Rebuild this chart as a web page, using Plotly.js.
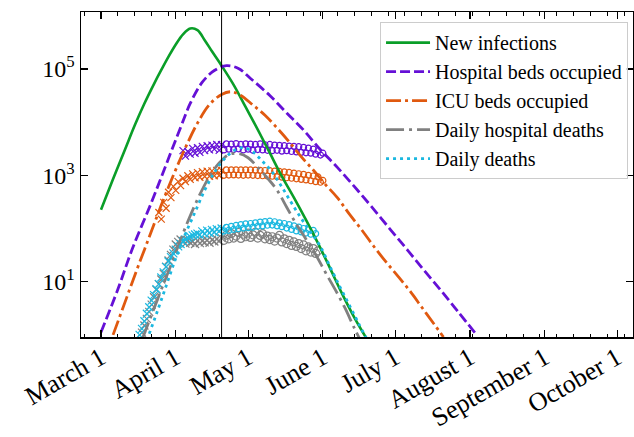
<!DOCTYPE html>
<html><head><meta charset="utf-8">
<script src="https://cdn.plot.ly/plotly-3.0.1.min.js"></script>
<style>html,body{margin:0;padding:0;background:#fff}#chart{width:634px;height:437px}</style>
</head><body><div id="chart"></div>
<script>
// ---- model curves ----
const infDates = ['2020-03-01','2020-03-06','2020-03-11','2020-03-15','2020-03-19','2020-03-23','2020-03-26','2020-03-29','2020-04-01','2020-04-04','2020-04-07','2020-04-10','2020-04-13','2020-04-16','2020-04-20','2020-04-25','2020-04-30','2020-05-05','2020-05-10','2020-05-15','2020-05-20','2020-05-25','2020-05-30','2020-06-04','2020-06-09','2020-06-14','2020-06-19'];
const infValues = [226,851,3090,8710,22400,52500,95500,170000,288000,447000,575000,537000,347000,214000,115000,50100,19100,7240,2630,955,380,145,52.5,17.8,5.9,2.14,0.87];

const hospDates = ['2020-03-01','2020-03-08','2020-03-14','2020-03-22','2020-03-28','2020-04-03','2020-04-07','2020-04-12','2020-04-17','2020-04-22','2020-04-27','2020-05-02','2020-05-10','2020-05-17','2020-05-24','2020-05-31','2020-06-07','2020-06-14','2020-06-21','2020-06-29','2020-07-06','2020-07-13','2020-07-20','2020-07-27','2020-08-03'];
const hospValues = [1.12,7.2,41.7,316,1585,7940,22400,56200,93300,115000,102000,66100,31600,14800,7080,3020,1410,617,263,95.5,39.8,16.2,6.8,2.75,1.10];

const icuDates = ['2020-03-06','2020-03-11','2020-03-16','2020-03-21','2020-03-26','2020-03-31','2020-04-05','2020-04-10','2020-04-15','2020-04-20','2020-04-24','2020-04-28','2020-05-03','2020-05-08','2020-05-13','2020-05-18','2020-05-23','2020-05-28','2020-06-02','2020-06-07','2020-06-12','2020-06-17','2020-06-22','2020-06-27','2020-07-02','2020-07-07','2020-07-12','2020-07-17','2020-07-21'];
const icuValues = [1.0,4.17,17.4,69,275,1000,3310,9550,21400,33100,37200,31600,20900,13500,7760,4270,2240,1260,676,380,186,95.5,46.8,24,12.9,6.76,3.31,1.62,0.91];

const hdDates = ['2020-03-18','2020-03-22','2020-03-26','2020-03-30','2020-04-03','2020-04-07','2020-04-11','2020-04-15','2020-04-19','2020-04-23','2020-04-27','2020-05-01','2020-05-05','2020-05-09','2020-05-13','2020-05-17','2020-05-21','2020-05-25','2020-05-29','2020-06-02','2020-06-06','2020-06-10','2020-06-14','2020-06-16'];
const hdValues = [0.81,2.4,7.1,20.4,61.7,174,437,955,1700,2450,2570,2140,1410,890,525,251,120,63,32.4,15.1,7.24,3.31,1.35,0.89];

const ddDates = ['2020-03-20','2020-03-24','2020-03-28','2020-04-01','2020-04-05','2020-04-09','2020-04-13','2020-04-17','2020-04-21','2020-04-25','2020-04-29','2020-05-03','2020-05-07','2020-05-11','2020-05-15','2020-05-19','2020-05-23','2020-05-27','2020-05-31','2020-06-04','2020-06-08','2020-06-12','2020-06-16','2020-06-19'];
const ddValues = [0.79,2.5,8.3,27.5,79,204,525,1120,2000,2880,3310,2750,1820,1150,603,302,155,85,45.7,19,8.1,3.6,1.58,0.87];

// ---- observed daily data ----
const hospObsStart = '2020-04-04';
const hospObs = [2900,2300,2800,2500,3200,2600,3300,
 2700,3500,2900,3600,3000,3700,3100,3800,2950,3750,
 3000,3900,3100,3850,3050,3950,3150,3800,3000,3900,
 3100,3850,2950,3800,3050,3900,3000,3750,2950,3800,
 2900,3700,2950,3650,2850,3600,2900,3550,2800,3500,
 2750,3450,2700,3350,2650,3250,2600,3100,2500,2900,
 2400,2600];

const icuObsStart = '2020-03-25';
const icuObs = [200,150,310,240,480,380,620,520,760,640,880,760,980,840,1060,900,1120,
 920,1170,950,1200,960,1210,980,1230,990,1240,
 1000,1260,1010,1270,1020,1270,1010,1260,1000,1270,
 1010,1260,1000,1250,990,1240,980,1230,970,1220,
 960,1200,940,1180,920,1160,900,1130,880,1100,
 860,1070,840,1040,820,1000,790,970,760,930,
 740,800];

const hdObsStart = '2020-03-18';
const hdObs = [1.1,1.5,2,2.7,3.7,5.1,7,9,11,14,19,25,32,40,50,56,62,
 58,52,60,54,57,51,59,53,58,55,60,54,61,57,63,58,66,
 60,75,64,80,66,72,84,65,78,70,
 82,68,76,85,66,74,80,64,72,62,
 70,58,66,74,56,64,52,60,48,56,
 46,52,42,49,38,45,36,42,34,38];

const ddObsStart = '2020-03-17';
const ddObs = [1.0,1.3,1.8,2.5,3.3,4.4,5.6,7.2,9,12,15,19,24,29,34,40,46,51,57,62,67,70,74,77,80,
 76,88,79,91,82,94,85,97,88,100,
 90,105,92,110,96,114,99,118,102,122,
 104,124,106,128,110,132,112,135,115,137,
 116,134,112,128,108,124,102,118,96,112,
 90,106,86,100,82,96,78,92,80];

const switchDate = '2020-04-20';
const tickDates = ['2020-03-01','2020-04-01','2020-05-01','2020-06-01','2020-07-01','2020-08-01','2020-09-01','2020-10-01'];
const tickLabels = ['March 1','April 1','May 1','June 1','July 1','August 1','September 1','October 1'];
const yTickVals = [10,1000,100000];
const yTickText = ['10<sup>1</sup>','10<sup>3</sup>','10<sup>5</sup>'];

const C = {green:'#0a9e28', purple:'#6510d6', orange:'#e0590f', gray:'#808080', cyan:'#1bb8e0'};

function dailyDates(start, n){
  const out=[]; const t0=Date.parse(start+'T00:00:00Z');
  for(let i=0;i<n;i++){ out.push(new Date(t0+i*86400000).toISOString().slice(0,10)); }
  return out;
}
const tSwitch = Date.parse(switchDate+'T00:00:00Z');
function obsTraces(start, vals, color, xs, os){
  const d = dailyDates(start, vals.length);
  const bx=[],by=[],ax=[],ay=[];
  d.forEach((v,i)=>{ if(Date.parse(v+'T00:00:00Z')<=tSwitch){bx.push(v);by.push(vals[i]);} else {ax.push(v);ay.push(vals[i]);} });
  return [
    {x:bx,y:by,type:'scatter',mode:'markers',showlegend:false,hoverinfo:'skip',
     marker:{symbol:'x-thin-open',size:xs,color:color,line:{color:color,width:1.2}}},
    {x:ax,y:ay,type:'scatter',mode:'markers',showlegend:false,hoverinfo:'skip',
     marker:{symbol:'circle-open',size:os,color:color,line:{color:color,width:1.2}}}
  ];
}

const traces = [].concat(
  obsTraces(hdObsStart, hdObs, C.gray, 8, 8),
  obsTraces(ddObsStart, ddObs, C.cyan, 8, 6),
  obsTraces(hospObsStart, hospObs, C.purple, 7, 6),
  obsTraces(icuObsStart, icuObs, C.orange, 7, 6),
  [
    {x:infDates,y:infValues,name:'New infections',type:'scatter',mode:'lines',line:{color:C.green,width:2.6,shape:'spline'}},
    {x:hospDates,y:hospValues,name:'Hospital beds occupied',type:'scatter',mode:'lines',line:{color:C.purple,width:2.8,dash:'10px,4px',shape:'spline'}},
    {x:icuDates,y:icuValues,name:'ICU beds occupied',type:'scatter',mode:'lines',line:{color:C.orange,width:2.8,dash:'15px,4px,3px,4px',shape:'spline'}},
    {x:hdDates,y:hdValues,name:'Daily hospital deaths',type:'scatter',mode:'lines',line:{color:C.gray,width:2.8,dash:'18px,5px,3px,5px',shape:'spline'}},
    {x:ddDates,y:ddValues,name:'Daily deaths',type:'scatter',mode:'lines',line:{color:C.cyan,width:2.8,dash:'3px,4px',shape:'spline'}}
  ]
);

const layout = {
  width:634, height:437,
  margin:{l:81,r:1,t:12,b:100},
  paper_bgcolor:'#fff', plot_bgcolor:'#fff',
  font:{family:'Liberation Serif, serif', color:'#000', size:20},
  showlegend:true,
  legend:{x:0.991,y:0.969,xanchor:'right',yanchor:'top',bgcolor:'rgba(255,255,255,0.85)',bordercolor:'#cccccc',borderwidth:1,font:{size:20,family:'Liberation Serif, serif'},tracegroupgap:0,itemwidth:44},
  xaxis:{type:'date',range:['2020-02-21 17:00','2020-10-07 14:00'],tickmode:'array',tickvals:tickDates,ticktext:tickLabels,tickangle:-30,
    ticks:'inside',ticklen:7,tickwidth:1.2,tickcolor:'#000',showline:true,linecolor:'#000',linewidth:1.5,mirror:'ticks',showgrid:false,zeroline:false,
    ticklabelstandoff:-6,
    tickfont:{size:26,family:'Liberation Serif, serif'},
    minor:{tickmode:'linear',tick0:'2020-03-01',dtick:604800000,ticks:'inside',ticklen:3.5,tickwidth:1,tickcolor:'#000',showgrid:false}},
  yaxis:{type:'log',range:[-0.04,6.07],tickmode:'array',tickvals:yTickVals,ticktext:yTickText,
    ticks:'inside',ticklen:7,tickwidth:1.2,tickcolor:'#000',showline:true,linecolor:'#000',linewidth:1.5,mirror:'ticks',showgrid:false,zeroline:false,
    tickfont:{size:24,family:'Liberation Serif, serif'}},
  shapes:[{type:'line',xref:'x',yref:'paper',x0:switchDate,x1:switchDate,y0:0,y1:1,line:{color:'#000',width:1},layer:'above'}]
};
Plotly.newPlot('chart', traces, layout, {staticPlot:true, displayModeBar:false});
</script>
</body></html>
